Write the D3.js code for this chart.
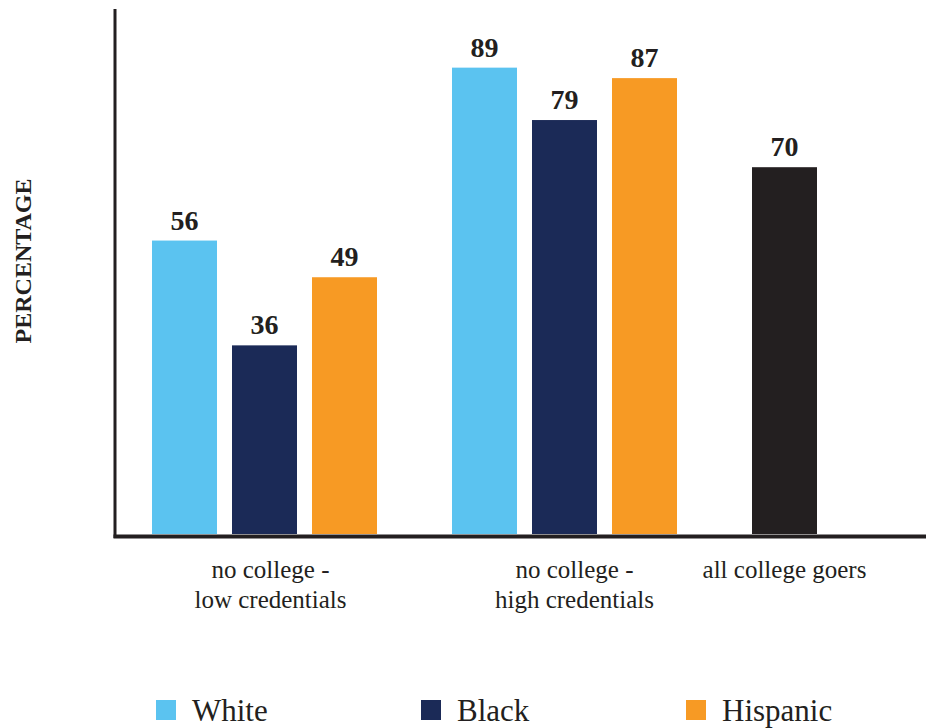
<!DOCTYPE html>
<html>
<head>
<meta charset="utf-8">
<script src="https://cdn.jsdelivr.net/npm/d3@7"></script>
<style>
  html, body { margin: 0; padding: 0; background: #fff; }
  svg { display: block; }
</style>
</head>
<body>
<div id="chart"></div>
<script>
// ---- data ----
const categories = ["no college - low credentials", "no college - high credentials", "all college goers"];
const categoryLines = [["no college -", "low credentials"], ["no college -", "high credentials"], ["all college goers"]];
const seriesNames = ["White", "Black", "Hispanic", "All"];
const whiteValues = [56, 89, null];
const blackValues = [36, 79, null];
const hispanicValues = [49, 87, null];
const allValues = [null, null, 70];
const legendNames = ["White", "Black", "Hispanic"];

const colors = { White: "#5BC3F0", Black: "#1B2A57", Hispanic: "#F79A24", All: "#231F20" };
const FONT = '"Liberation Serif"';
const INK = "#231F20";

// ---- layout ----
const W = 926, H = 728;
const baseline = 534, topY = 10;
const axisX = 115;

const svg = d3.select("#chart").append("svg").attr("width", W).attr("height", H);

const y = d3.scaleLinear().domain([0, 100]).range([baseline, topY]);

const x0 = d3.scaleBand().domain(categories).range([152, 1052]).paddingInner(0).paddingOuter(0);
const slots = ["s0", "s1", "s2"];
const x1 = d3.scaleBand().domain(slots).range([0, 225]).paddingInner(15 / 80).paddingOuter(0);

const rows = [];
categories.forEach((c, i) => {
  const present = [];
  [["White", whiteValues], ["Black", blackValues], ["Hispanic", hispanicValues], ["All", allValues]].forEach(([name, arr]) => {
    if (arr[i] != null) present.push({ cat: c, series: name, value: arr[i] });
  });
  present.forEach((d, j) => { d.slot = slots[j]; rows.push(d); });
});

// bars
svg.append("g").selectAll("rect").data(rows).join("rect")
  .attr("x", d => x0(d.cat) + x1(d.slot))
  .attr("y", d => y(d.value))
  .attr("width", x1.bandwidth())
  .attr("height", d => baseline - y(d.value))
  .attr("fill", d => colors[d.series]);

// value labels
svg.append("g").selectAll("text").data(rows).join("text")
  .attr("x", d => x0(d.cat) + x1(d.slot) + x1.bandwidth() / 2)
  .attr("y", d => y(d.value) - 11)
  .attr("text-anchor", "middle")
  .style("font-family", FONT)
  .style("font-size", "28px")
  .style("font-weight", "bold")
  .style("fill", INK)
  .text(d => d.value);

// axes lines
svg.append("line").attr("x1", axisX).attr("x2", axisX).attr("y1", 9).attr("y2", 538)
  .attr("stroke", INK).attr("stroke-width", 3);
svg.append("line").attr("x1", axisX - 1.5).attr("x2", W).attr("y1", 536.5).attr("y2", 536.5)
  .attr("stroke", INK).attr("stroke-width", 4);

// category labels
const labelOffsets = [6, 10, 0];
categories.forEach((c, i) => {
  const nBars = rows.filter(r => r.cat === c).length;
  const cx = x0(c) + (x1(slots[nBars - 1]) + x1.bandwidth()) / 2 + labelOffsets[i];
  categoryLines[i].forEach((line, k) => {
    svg.append("text").attr("text-anchor", "middle")
      .attr("x", cx).attr("y", 578 + k * 30)
      .style("font-family", FONT).style("font-size", "25px").style("fill", INK)
      .text(line);
  });
});

// y label
svg.append("text")
  .attr("transform", "translate(31,261) rotate(-90)")
  .attr("text-anchor", "middle")
  .style("font-family", FONT)
  .style("font-size", "24px")
  .style("font-weight", "bold")
  .style("fill", INK)
  .text("PERCENTAGE");

// legend
const legendX = d3.scalePoint().domain(legendNames).range([156, 686]);
const lg = svg.append("g").selectAll("g").data(legendNames).join("g")
  .attr("transform", d => `translate(${legendX(d)},700)`);
lg.append("rect").attr("width", 20).attr("height", 20).attr("fill", d => colors[d]);
lg.append("text").attr("x", 36).attr("y", 21)
  .style("font-family", FONT).style("font-size", "31px").style("fill", INK).text(d => d);
</script>
</body>
</html>
